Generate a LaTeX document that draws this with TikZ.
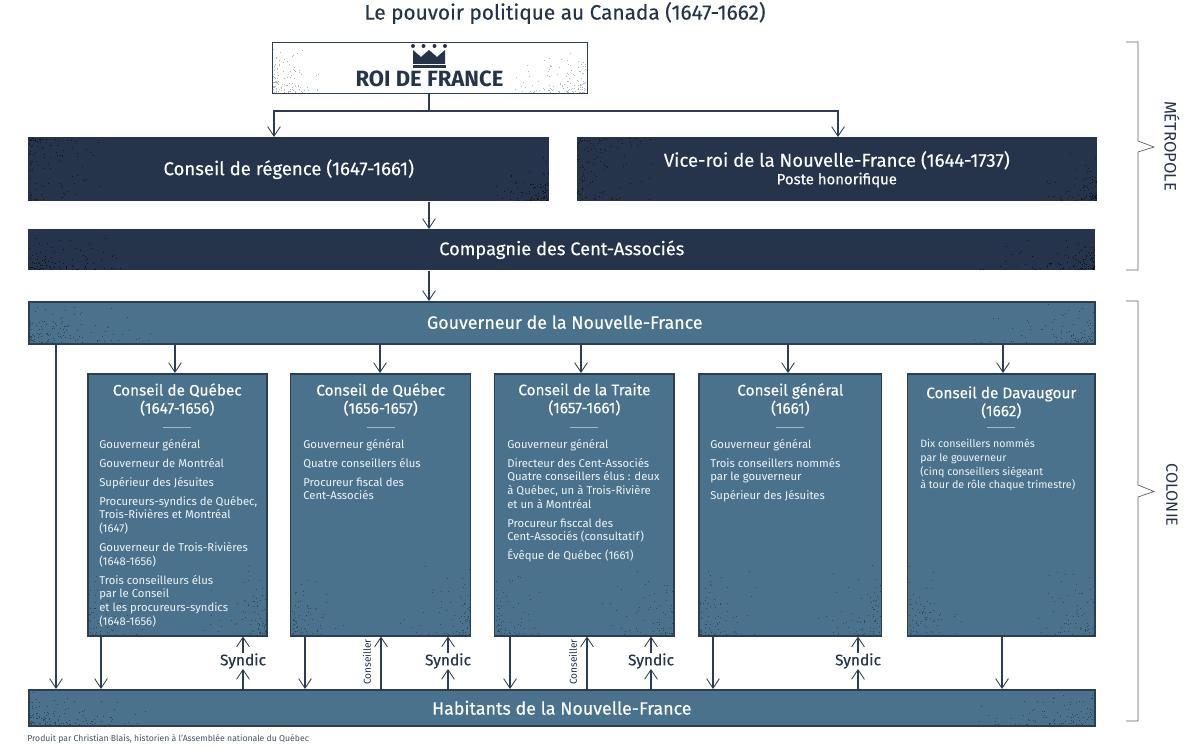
\documentclass[tikz,border=0pt]{standalone}
\usepackage{fontspec}
\setmainfont{Fira Sans}
\newfontfamily\moyen{Fira Sans}[FakeBold=0.3]
\usetikzlibrary{positioning, calc, arrows.meta}
\definecolor{marine}{HTML}{25344A}
\definecolor{sarcelle}{HTML}{4A728C}
\definecolor{filet}{HTML}{2C3D54}
\definecolor{accolade}{HTML}{5A5F66}
\newcommand{\speckles}[6]{%
  \foreach \i in {1,...,#6}{%
    \pgfmathsetmacro{\sx}{#1+(#3)*rnd*rnd}
    \pgfmathsetmacro{\sy}{#2+(#4)*rnd*rnd}
    \fill[#5] (\sx,\sy) rectangle +(0.8,0.8);
  }}

\begin{document}
\begin{tikzpicture}[x=0.25mm, y=-0.25mm,
    >={Straight Barb[length=2.4mm,width=3.2mm,line width=0.6pt]},
    size/.style 2 args={minimum width=#1*0.25mm, minimum height=#2*0.25mm,
      inner sep=0pt},
    bar/.style={rectangle, anchor=north west, fill=marine, text=white,
      align=center, font=\moyen\fontsize{13}{15}\selectfont},
    govbar/.style={bar, fill=sarcelle, draw=filet, line width=1.1pt,
      font=\moyen\fontsize{12.7}{15}\selectfont},
    conseil/.style={rectangle, fill=sarcelle, draw=filet, line width=1.1pt},
    titre/.style={text=white, align=center, inner sep=0pt,
      font=\moyen\fontsize{10.9}{12.8}\selectfont},
    corps/.style={text=white!92!sarcelle, align=left, anchor=north west, inner sep=0pt,
      font=\fontsize{8.05}{9.75}\selectfont},
    syndic/.style={text=marine, inner sep=0pt, font=\moyen\fontsize{11}{12}\selectfont},
    fleche/.style={->, draw=filet, line width=0.75pt},
    accol/.style={draw=accolade, line width=0.5pt}]
  \useasboundingbox (0,0) rectangle (1200,750);

  % TITLE

  \node[text=marine, font=\moyen\fontsize{14.8}{17}\selectfont] (titre) at (565,13)
    {Le pouvoir politique au Canada (1647-1662)};

  % KING

  \node[draw=filet, line width=0.9pt, size={315}{51}, anchor=north west] (roi) at (272,42) {};
  \pgfmathsetseed{1647}
  \speckles{273}{92}{55}{-48}{marine!35}{110}
  \speckles{585}{92}{-80}{-48}{marine!35}{120}
  \fill[marine] (413,50) -- (421,57) -- (429,50) -- (437,57) -- (445,50)
    -- (445,64) -- (413,64) -- cycle;
  \fill[marine] (413,65.5) rectangle (445.5,68);
  \foreach \cx in {413,423.5,434.5,445}
    \fill[marine] (\cx,46) circle (2);
  \node[text=marine, font=\fontsize{15.7}{17}\bfseries\selectfont, inner sep=0pt] (roilabel)
    at (429.5,79) {ROI DE FRANCE};

  % BARS

  \node[bar, size={521}{64}, font=\moyen\fontsize{13.2}{15}\selectfont] (regence) at (28,137)
    {Conseil de régence (1647-1661)};
  \node[bar, size={520}{64}, right=6.75mm of regence.north east, anchor=north west,
    font=\moyen\fontsize{13.2}{15}\selectfont] (viceroi)
    {Vice-roi de la Nouvelle-France (1644-1737)\\[-2.5pt]
     {\fontsize{10.6}{12}\selectfont Poste honorifique}};
  \node[bar, size={1067}{41}] (compagnie) at (28,229) {Compagnie des Cent-Associés};
  \node[govbar, size={1066}{42}] (gouverneur) at (28,301)
    {\raisebox{1pt}{\hspace*{1.5mm}Gouverneur de la Nouvelle-France}};
  \node[govbar, size={1066}{36}] (habitants) at (28,689) {Habitants de la Nouvelle-France};

  % COUNCILS

  \node[conseil, size={179}{262}, anchor=north west] (quebecA) at (87,373) {};
  \node[conseil, size={180}{262}, right=5.6mm of quebecA] (quebecB) {};
  \node[conseil, size={179.5}{262}, right=5.6mm of quebecB] (traite) {};
  \node[conseil, size={182.5}{262}, right=5.85mm of traite] (general) {};
  \node[conseil, size={187.5}{262}, right=6.1mm of general] (davaugour) {};

  % TEXTURE

  \foreach \x/\w in {29/80, 577/80}{
    \speckles{\x}{138}{\w}{62}{black!60!marine}{70}
    \speckles{\x}{200}{\w}{-62}{black!60!marine}{40}
  }
  \speckles{548}{200}{-60}{-50}{black!60!marine}{80}
  \speckles{1096}{200}{-60}{-50}{black!60!marine}{80}
  \speckles{29}{269}{120}{-35}{black!70!marine}{90}
  \speckles{1094}{269}{-130}{-35}{black!70!marine}{90}
  \foreach \by/\h in {342/41, 724/35}{
    \speckles{29}{\by}{130}{-\h}{black!40!sarcelle}{120}
    \speckles{1094}{\by}{-130}{-\h}{black!40!sarcelle}{90}
  }
  \foreach \bx/\ex in {88/265, 292/469.5, 495.5/673, 700/880.5, 908.5/1094}{
    \speckles{\bx}{634}{60}{-75}{black!35!sarcelle}{70}
    \speckles{\ex}{634}{-75}{-75}{black!35!sarcelle}{70}
  }

  % COUNCIL TEXTS

  \foreach \nom/\txt/\ty in {quebecA/{Conseil de Québec\\(1647-1656)}/10,
      quebecB/{Conseil de Québec\\(1656-1657)}/10,
      traite/{Conseil de la Traite\\(1657-1661)}/10,
      general/{Conseil général\\(1661)}/10,
      davaugour/{Conseil de Davaugour\\(1662)}/13}{
    \node[titre, anchor=north, yshift=-\ty*0.25mm] (titre\nom) at (\nom.north) {\txt};
    \draw[draw=white!50!sarcelle, line width=1pt]
      (\nom.north) ++(-14,54.5) -- ++(28,0);
  }
  \node[corps] (corpsA) at (99,439) {Gouverneur général\\[3.7pt]
    Gouverneur de Montréal\\[3.7pt]
    Supérieur des Jésuites\\[3.7pt]
    Procureurs-syndics de Québec,\\Trois-Rivières et Montréal\\(1647)\\[3.7pt]
    Gouverneur de Trois-Rivières\\(1648-1656)\\[3.7pt]
    Trois conseilleurs élus\\par le Conseil\\et les procureurs-syndics\\(1648-1656)};
  \node[corps] (corpsB) at (303,439) {Gouverneur général\\[3.7pt]
    Quatre conseillers élus\\[3.7pt]
    Procureur fiscal des\\Cent-Associés};
  \node[corps] (corpsC) at (507,439) {Gouverneur général\\[3.7pt]
    Directeur des Cent-Associés\\Quatre conseillers élus : deux\\à Québec, un à Trois-Rivière\\et un à Montréal\\[3.7pt]
    Procureur fisccal des\\Cent-Associés (consultatif)\\[3.7pt]
    Évêque de Québec (1661)};
  \node[corps] (corpsD) at (710,439) {Gouverneur général\\[3.7pt]
    Trois conseillers nommés\\par le gouverneur\\[3.7pt]
    Supérieur des Jésuites};
  \node[corps, font=\fontsize{7.6}{9.75}\selectfont] (corpsE) at (920,439)
    {Dix conseillers nommés\\par le gouverneur\\(cinq conseillers siégeant\\à tour de rôle chaque trimestre)};

  % CONNECTORS

  \coordinate (branche) at (429,111);
  \draw[fleche, -] (roi.south -| branche) -- (branche);
  \draw[fleche] (branche) -| (274,0 |- regence.north);
  \draw[fleche] (branche) -| (838,0 |- viceroi.north);
  \draw[fleche] (429,0 |- regence.south) -- (429,0 |- compagnie.north);
  \draw[fleche] (429,0 |- compagnie.south) -- (429,0 |- gouverneur.north);
  \foreach \x/\nom in {175/quebecA, 380/quebecB, 581/traite, 788/general, 1003/davaugour}
    \draw[fleche] (\x,0 |- gouverneur.south) -- (\x,0 |- \nom.north);
  \draw[fleche] (56,0 |- gouverneur.south) -- (56,0 |- habitants.north);
  \foreach \x/\nom in {101/quebecA, 305/quebecB, 510/traite, 713/general, 1002/davaugour}
    \draw[fleche] (\x,0 |- \nom.south) -- (\x,0 |- habitants.north);
  \foreach \x/\nom in {243/quebecA, 448/quebecB, 651/traite, 858/general}{
    \node[syndic] (syndic\nom) at (\x,661) {Syndic};
    \draw[fleche] (\x,0 |- habitants.north) -- (syndic\nom.south);
    \draw[fleche] (syndic\nom.north) -- (\x,0 |- \nom.south);
  }
  \foreach \x/\nom in {381/quebecB, 587/traite}{
    \draw[fleche] (\x,0 |- habitants.north) -- (\x,0 |- \nom.south);
    \node[text=marine, rotate=90, inner sep=0pt, font=\fontsize{7.2}{8}\selectfont]
      (conseiller\nom) at (\x-14,662) {Conseiller};
  }

  % BRACKETS

  \draw[accol] (1126,42) -- (1138,42) -- (1138,141) -- (1154,147) -- (1138,152)
    -- (1138,270) -- (1126,270);
  \draw[accol] (1126,301) -- (1138,301) -- (1138,485) -- (1154,491.5) -- (1138,497)
    -- (1138,721) -- (1126,721);
  \node[rotate=-90, text=marine, inner sep=0pt, font=\fontsize{11.8}{13}\selectfont]
    (metropole) at (1172,146) {MÉTROPOLE};
  \node[rotate=-90, text=marine, inner sep=0pt, font=\fontsize{11.5}{13}\selectfont]
    (colonie) at (1172,495) {COLONIE};

  % CREDIT

  \node[anchor=west, text=marine!85, inner sep=0pt, font=\fontsize{6.15}{7}\selectfont]
    (credit) at (27,738.5) {Produit par Christian Blais, historien à l'Assemblée nationale du Québec};
\end{tikzpicture}
\end{document}
